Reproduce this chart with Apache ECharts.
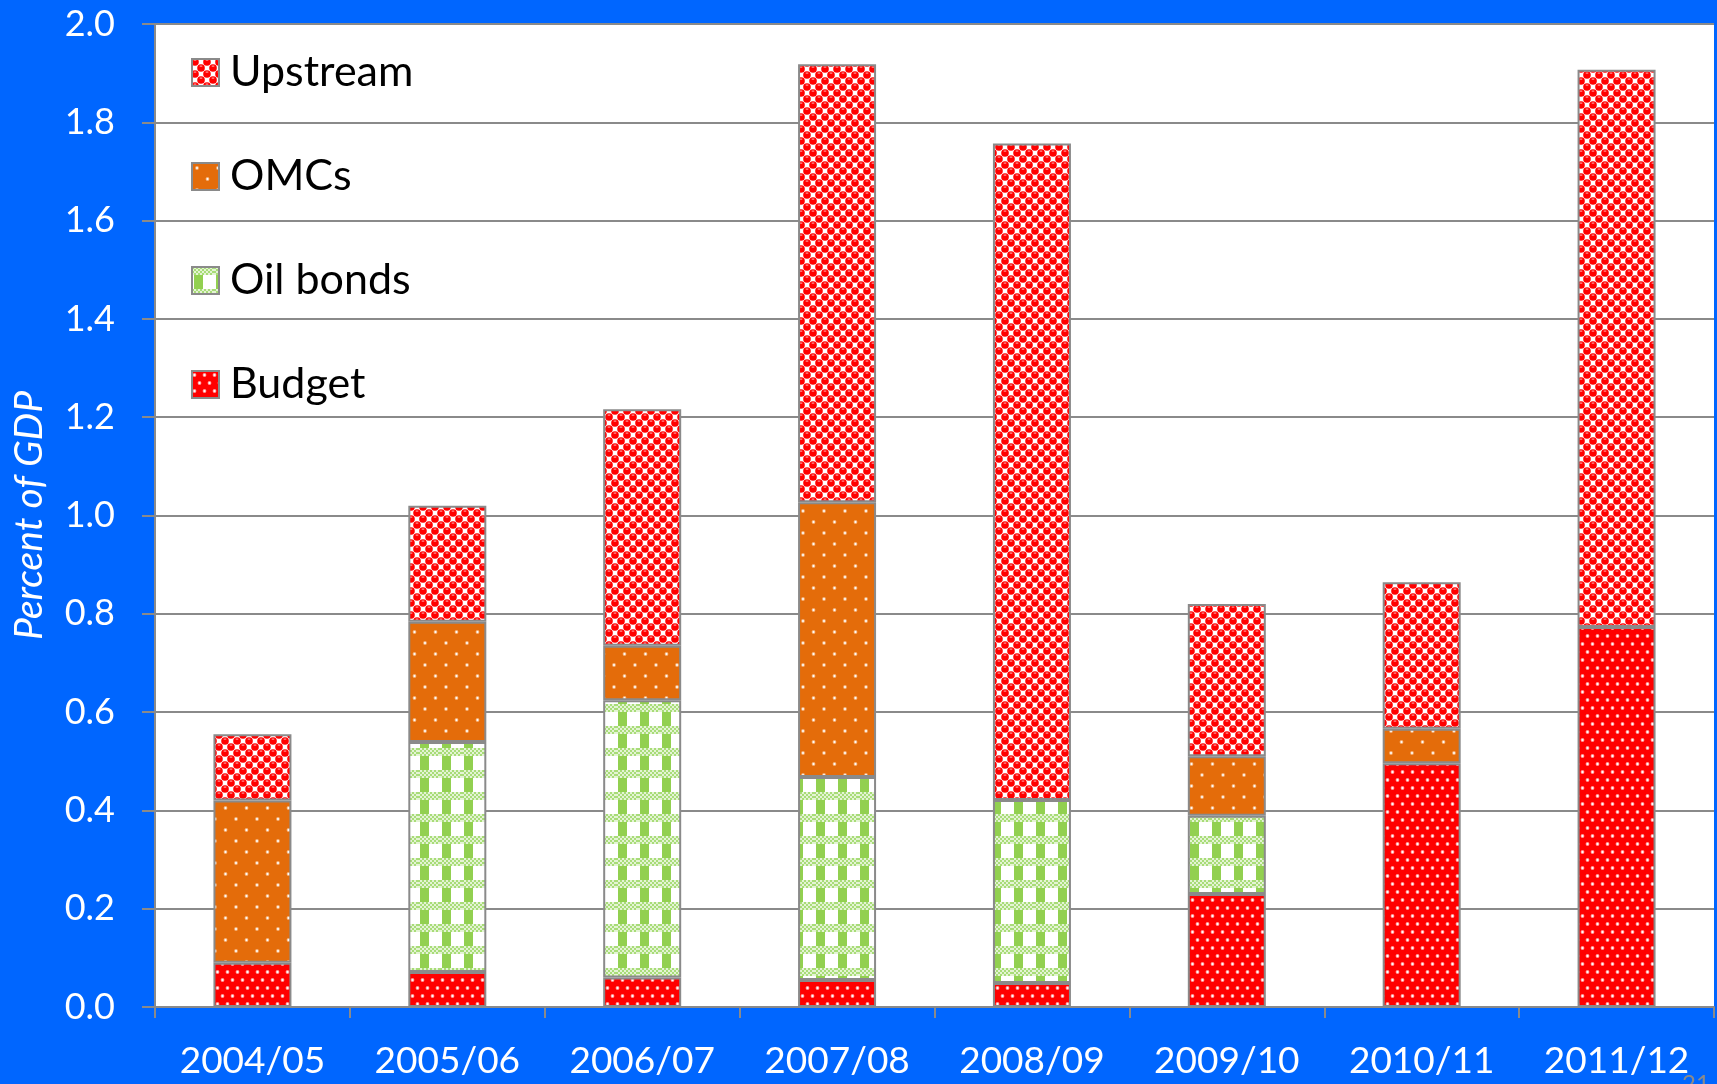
<!DOCTYPE html>
<html>
<head>
<meta charset="utf-8">
<title>Fuel subsidies by financing source</title>
<script src="https://cdn.jsdelivr.net/npm/echarts@6/dist/echarts.min.js"></script>
<style>
  html, body { margin: 0; padding: 0; background: #0066FF; }
  #chart { width: 1717px; height: 1084px; }
</style>
</head>
<body>
<div id="chart"></div>
<script>
// Fiscal years
const categories = ['2004/05', '2005/06', '2006/07', '2007/08', '2008/09', '2009/10', '2010/11', '2011/12'];
// Components of subsidy burden, percent of GDP (null = none that year)
const budget   = [0.090, 0.071, 0.060, 0.055, 0.049, 0.230, 0.496, 0.773];
const oilBonds = [null, 0.468, 0.564, 0.413, 0.372, 0.159, null, null];
const omcs     = [0.330, 0.245, 0.111, 0.559, null, 0.121, 0.070, null];
const upstream = [0.135, 0.236, 0.481, 0.891, 1.336, 0.310, 0.298, 1.134];
// Y axis ticks
const yMin = 0, yMax = 2, yStep = 0.2;

const FONT = 'Lato, "Open Sans", "Liberation Sans", sans-serif';
const GREY = '#8a8a8a';

function makeTile(w, h, draw) {
  const c = document.createElement('canvas');
  c.width = w; c.height = h;
  draw(c.getContext('2d'), w, h);
  return c;
}
function dot(ctx, x, y, halo, core) {
  ctx.fillStyle = halo;
  ctx.beginPath(); ctx.arc(x, y, 1.9, 0, Math.PI * 2); ctx.fill();
  ctx.fillStyle = core;
  ctx.beginPath(); ctx.arc(x, y, 1.0, 0, Math.PI * 2); ctx.fill();
}

// Upstream: red spheres on a white checker
const upstreamTile = makeTile(12, 12, (ctx, w, h) => {
  ctx.fillStyle = '#ffffff';
  ctx.fillRect(0, 0, w, h);
  const centres = [[3, 3], [9, 9]];
  for (const [cx, cy] of centres) {
    for (const dx of [-w, 0, w]) {
      for (const dy of [-h, 0, h]) {
        ctx.fillStyle = '#FF0000';
        ctx.beginPath(); ctx.arc(cx + dx, cy + dy, 3.8, 0, Math.PI * 2); ctx.fill();
      }
    }
  }
  ctx.fillStyle = '#ffb0b0';
  for (const [cx, cy] of centres) {
    ctx.fillRect(cx - 1.3, cy - 2.4, 2.6, 1.0);
  }
});

// OMCs: orange with sparse white dots
const omcTile = makeTile(21, 22, (ctx, w, h) => {
  ctx.fillStyle = '#E46C0A';
  ctx.fillRect(0, 0, w, h);
  dot(ctx, 5, 5, '#f3b27c', '#ffffff');
  dot(ctx, 15.5, 16, '#f3b27c', '#ffffff');
});

// Oil bonds: green columns crossed by light mesh bands
const bondTile = makeTile(22, 22, (ctx, w, h) => {
  ctx.fillStyle = '#ffffff';
  ctx.fillRect(0, 0, w, h);
  ctx.fillStyle = '#92D050';
  ctx.fillRect(2, 0, 9, h);
  for (let y = 0; y < 8; y += 2) {
    for (let x = 0; x < w; x += 2) {
      ctx.fillStyle = ((x + y) / 2) % 2 === 0 ? '#a8dc78' : '#e4f4d4';
      ctx.fillRect(x, y, 2, 2);
    }
  }
});

// Budget: red with fine white dots
const budgetTile = makeTile(10, 16, (ctx, w, h) => {
  ctx.fillStyle = '#FF0000';
  ctx.fillRect(0, 0, w, h);
  dot(ctx, 2.5, 4, '#ff9a9a', '#ffffff');
  dot(ctx, 7.5, 12, '#ff9a9a', '#ffffff');
});

function pattern(tile) {
  return { image: tile, repeat: 'repeat' };
}

function barSeries(name, data, tile) {
  return {
    name: name,
    type: 'bar',
    stack: 'total',
    data: data,
    barWidth: 78,
    itemStyle: {
      color: pattern(tile),
      borderColor: GREY,
      borderWidth: 2
    },
    emphasis: { disabled: true }
  };
}

const chart = echarts.init(document.getElementById('chart'), null, { renderer: 'canvas' });

chart.setOption({
  backgroundColor: '#0066FF',
  animation: false,
  grid: {
    left: 155, right: 3, top: 24, bottom: 77,
    show: true, backgroundColor: '#ffffff', borderWidth: 0
  },
  legend: {
    orient: 'vertical',
    left: 186,
    top: 46,
    itemWidth: 27,
    itemHeight: 27,
    itemGap: 61,
    icon: 'rect',
    selectedMode: false,
    data: ['Upstream', 'OMCs', 'Oil bonds', 'Budget'],
    itemStyle: { borderColor: GREY, borderWidth: 2 },
    textStyle: {
      fontFamily: FONT, fontSize: 43, color: '#000000',
      padding: [0, 0, 0, 6]
    }
  },
  xAxis: {
    type: 'category',
    data: categories,
    boundaryGap: true,
    axisLine: { show: true, lineStyle: { color: GREY, width: 2 } },
    axisTick: { show: true, length: 11, interval: 0, lineStyle: { color: GREY, width: 2 } },
    axisLabel: {
      color: '#ffffff', fontFamily: FONT, fontSize: 37, margin: 36, interval: 0
    },
    splitLine: { show: false }
  },
  yAxis: {
    type: 'value',
    min: yMin, max: yMax, interval: yStep,
    name: 'Percent of GDP',
    nameLocation: 'middle',
    nameRotate: 90,
    nameGap: 106,
    nameTextStyle: {
      color: '#ffffff', fontFamily: FONT, fontSize: 39, fontStyle: 'italic'
    },
    axisLine: { show: true, lineStyle: { color: GREY, width: 2 } },
    axisTick: { show: true, length: 13, lineStyle: { color: GREY, width: 2 } },
    axisLabel: {
      color: '#ffffff', fontFamily: FONT, fontSize: 36, margin: 40,
      formatter: v => v.toFixed(1)
    },
    splitLine: { show: true, lineStyle: { color: GREY, width: 2 } }
  },
  series: [
    barSeries('Budget', budget, budgetTile),
    barSeries('Oil bonds', oilBonds, bondTile),
    barSeries('OMCs', omcs, omcTile),
    barSeries('Upstream', upstream, upstreamTile)
  ],
  graphic: [{
    type: 'text',
    left: 1682, top: 1072,
    style: { text: '21', fill: '#8a8a8a', font: '24px ' + FONT }
  }]
});
</script>
</body>
</html>
